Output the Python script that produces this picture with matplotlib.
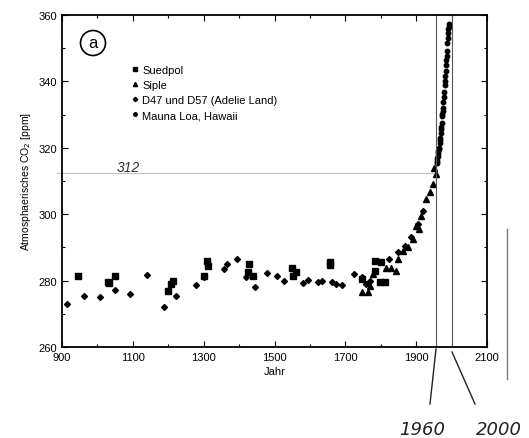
import matplotlib.pyplot as plt
from matplotlib.lines import Line2D

# --- data ---
suedpol_year = [945, 1029, 1033, 1050, 1199, 1209, 1213, 1301, 1309, 1313, 1424, 1429, 1439,
                1548, 1553, 1562, 1656, 1658, 1748, 1783, 1802, 1783, 1797, 1811]
suedpol_co2 = [281.5, 279.7, 279.3, 281.5, 277.0, 279.0, 280.0, 281.5, 286.0, 284.5, 282.5, 285.0, 281.5,
               283.8, 281.5, 282.7, 284.8, 285.5, 280.5, 286.0, 285.5, 283.0, 279.6, 279.6]

siple_year = [1746, 1765, 1771, 1779, 1816, 1830, 1842, 1849, 1863, 1877, 1891, 1900, 1908,
              1915, 1927, 1938, 1948, 1957, 1950]
siple_co2 = [276.5, 276.5, 278.5, 282.0, 283.8, 283.8, 283.0, 286.5, 289.0, 290.0, 292.5, 296.5, 295.5,
             299.6, 304.6, 306.6, 309.0, 312.0, 314.0]

d47_year = [914, 961, 1006, 1050, 1091, 1140, 1187, 1222, 1279, 1301, 1358, 1365, 1395, 1420,
            1446, 1478, 1506, 1527, 1581, 1595, 1623, 1633, 1661, 1675, 1690, 1725, 1746, 1758,
            1770, 1822, 1850, 1868, 1885, 1905, 1920]
d47_co2 = [273.0, 275.5, 275.2, 277.2, 276.0, 281.7, 272.0, 275.5, 278.7, 281.0, 283.5, 285.0, 286.5, 281.0,
           278.0, 282.3, 281.3, 280.0, 279.2, 280.2, 279.6, 279.8, 279.6, 279.0, 278.8, 282.0, 281.0, 279.0,
           280.0, 286.5, 288.5, 290.5, 293.0, 297.0, 301.0]

mauna_year = list(range(1958, 1994))
mauna_co2 = [315.3, 316.0, 316.9, 317.6, 318.5, 319.0, 319.6, 320.0, 321.4, 322.2, 323.1, 324.6,
             325.7, 326.3, 327.5, 329.7, 330.2, 331.1, 332.0, 333.8, 335.4, 336.8, 338.8, 340.1,
             341.5, 343.2, 344.9, 346.4, 347.6, 349.3, 351.7, 353.2, 354.5, 355.7, 356.5, 357.2]

W, H = 529, 439
fig = plt.figure(figsize=(W / 100, H / 100), dpi=100)
plt.rcParams['font.family'] = ['Liberation Sans', 'DejaVu Sans']
ax = fig.add_axes([62 / W, 1 - 348 / H, 425 / W, 332 / H])

ax.plot(suedpol_year, suedpol_co2, 's', color='black', ms=4.2, label='Suedpol')
ax.plot(siple_year, siple_co2, '^', color='black', ms=4.2, label='Siple')
ax.plot(d47_year, d47_co2, 'D', color='black', ms=3, label='D47 und D57 (Adelie Land)')
ax.plot(mauna_year, mauna_co2, 'o', color='black', ms=3.2, label='Mauna Loa, Hawaii')

ax.set_xlim(900, 2100)
ax.set_ylim(260, 360)
ax.set_xticks(range(900, 2101, 200))
ax.set_xticks(range(900, 2101, 100), minor=True)
ax.set_yticks(range(260, 361, 20))
ax.set_yticks(range(260, 361, 10), minor=True)
ax.tick_params(which='both', direction='in', top=True, right=True, labelsize=8, width=0.8)
ax.tick_params(which='major', length=4)
ax.tick_params(which='minor', length=2.5)
for s in ax.spines.values():
    s.set_linewidth(1.3)

ax.set_xlabel('Jahr', fontsize=8, labelpad=3)
ax.set_ylabel('Atmosphaerisches CO$_2$ [ppm]', fontsize=7.5, labelpad=4)

handles = [Line2D([], [], ls='', marker='s', color='black', ms=3),
           Line2D([], [], ls='', marker='^', color='black', ms=3),
           Line2D([], [], ls='', marker='D', color='black', ms=2.2),
           Line2D([], [], ls='', marker='o', color='black', ms=2.5)]
labels = ['Suedpol', 'Siple', 'D47 und D57 (Adelie Land)', 'Mauna Loa, Hawaii']
ax.legend(handles, labels, loc='upper left', bbox_to_anchor=(0.15, 0.865), frameon=False,
          fontsize=8, handlelength=0.6, handletextpad=0.4, labelspacing=0.45, borderpad=0)

# circled "a"
fig.text(93 / W, 1 - 44 / H, 'a', fontsize=12, ha='center', va='center',
         bbox=dict(boxstyle='circle,pad=0.3', fc='white', ec='black', lw=1.2))

# handwritten annotations
hand = dict(color='#222222', fontsize=13, style='italic', family='DejaVu Sans')
ax.plot([885, 1950], [312.5, 312.5], color='#999999', lw=0.8, alpha=0.6, clip_on=False)
fig.text(128 / W, 1 - 168 / H, '312', fontsize=10, style='italic', color='#333333',
         ha='center', va='center')
for yr in (1955, 2001):
    ax.plot([yr, yr], [260, 360], color='#555555', lw=0.8)
fig.add_artist(Line2D([436 / W, 430 / W], [1 - 350 / H, 1 - 405 / H], color='#222222', lw=1))
fig.add_artist(Line2D([452 / W, 475 / W], [1 - 353 / H, 1 - 405 / H], color='#222222', lw=1))
fig.add_artist(Line2D([507 / W, 507 / W], [1 - 230 / H, 1 - 380 / H], color='#777777', lw=1))
fig.text(422 / W, 1 - 430 / H, '1960', ha='center', va='center', **hand)
fig.text(476 / W, 1 - 430 / H, '2000', ha='left', va='center', **hand)

fig.savefig('out.png', dpi=100)
